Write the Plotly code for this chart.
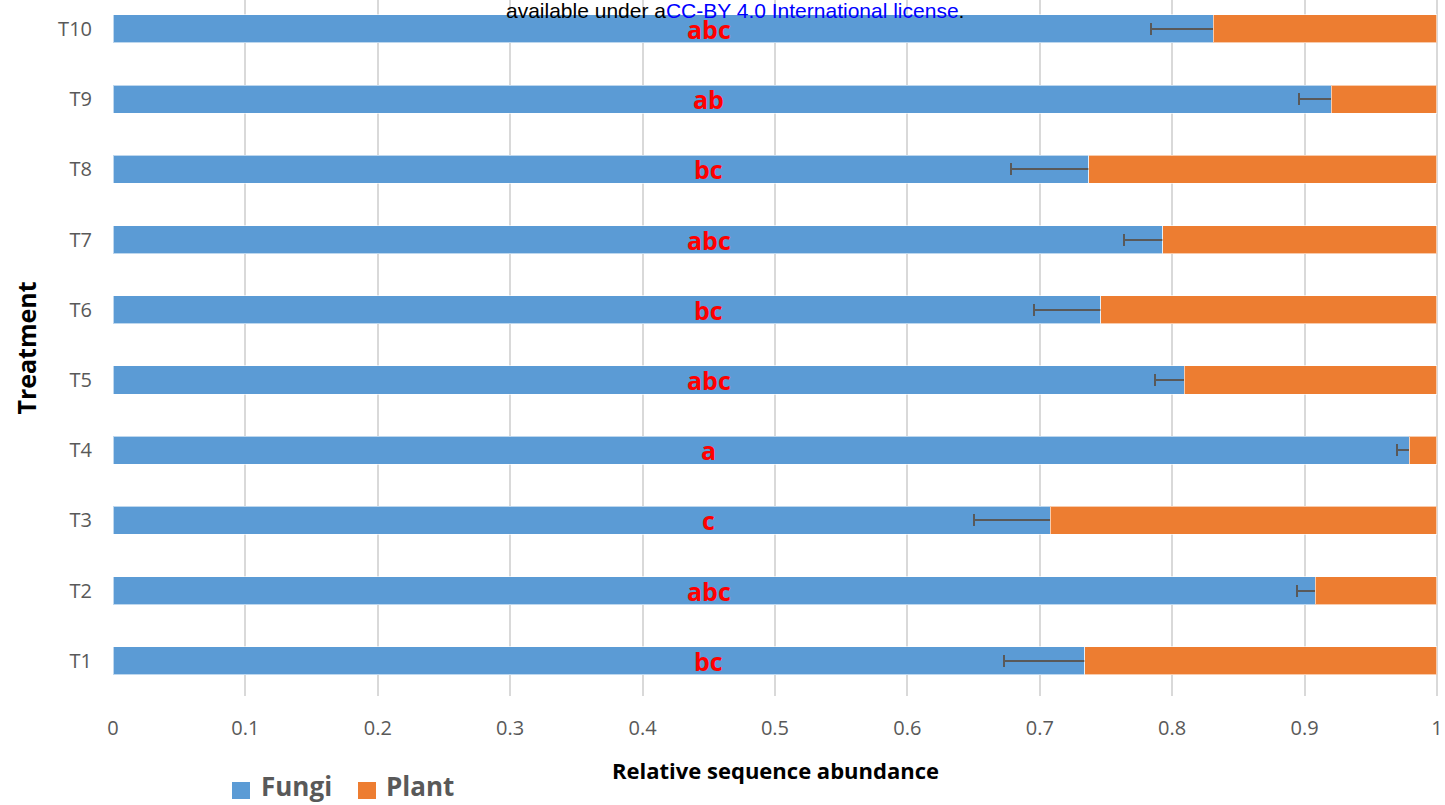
import plotly.graph_objects as go

treatments = ["T1", "T2", "T3", "T4", "T5", "T6", "T7", "T8", "T9", "T10"]
fungi = [0.734, 0.908, 0.708, 0.979, 0.809, 0.746, 0.793, 0.737, 0.920, 0.831]
fungi_err = [0.061, 0.014, 0.058, 0.009, 0.022, 0.050, 0.029, 0.059, 0.024, 0.047]
plant = [round(1 - f, 3) for f in fungi]
letters = ["bc", "abc", "c", "a", "abc", "bc", "abc", "bc", "ab", "abc"]
x_ticks = [0, 0.1, 0.2, 0.3, 0.4, 0.5, 0.6, 0.7, 0.8, 0.9, 1]
x_tick_text = ["0", "0.1", "0.2", "0.3", "0.4", "0.5", "0.6", "0.7", "0.8", "0.9", "1"]
series_names = ["Fungi", "Plant"]
series_colors = ["#5B9BD5", "#ED7D31"]

ypos = list(range(len(treatments)))
FONT = "'Open Sans', Lato, sans-serif"
GRAY = "#595959"

W, H = 1445, 805
L, R, T, B = 113, 7, 0, 109
XMAX = 1.0008
pw = W - L - R
ph = H - T - B
YMAX = -0.5 + ph / 70.22


def px_x(p):
    # screen x of the reference -> paper coordinate
    return (p - L) / pw


def px_y(p):
    # screen y of the reference -> paper coordinate
    return (H - B - p) / ph


fig = go.Figure()
fig.add_trace(go.Bar(
    y=ypos, x=fungi, orientation="h", name=series_names[0],
    marker=dict(color=series_colors[0], line=dict(color="rgba(255,255,255,0.6)", width=1)),
    width=0.4, showlegend=False,
    error_x=dict(type="data", array=fungi_err, color=GRAY, thickness=2, width=6),
))
fig.add_trace(go.Bar(
    y=ypos, x=plant, orientation="h", name=series_names[1],
    marker=dict(color=series_colors[1], line=dict(color="rgba(255,255,255,0.6)", width=1)),
    width=0.4, showlegend=False,
))

for yv, lab in zip(ypos, letters):
    fig.add_annotation(x=0.45, y=yv, text="<b>" + lab + "</b>", showarrow=False,
                       font=dict(family=FONT, size=25, color="#FF0000"),
                       xanchor="center", yanchor="middle", yshift=0)

fig.add_annotation(xref="paper", yref="paper", x=px_x(735), y=px_y(11),
                   text="available under a<span style='color:#0000FF'>CC-BY 4.0 International license</span>.",
                   showarrow=False, xanchor="center", yanchor="middle",
                   font=dict(family="Liberation Sans, Arial", size=21, color="#000000"))

# legend drawn as squares + labels below the axis title
legend_sq = [(232, 250), (358, 376)]
legend_tx = [259, 384]
for (x0, x1), tx, name, col in zip(legend_sq, legend_tx, series_names, series_colors):
    fig.add_shape(type="rect", xref="paper", yref="paper",
                  x0=px_x(x0), x1=px_x(x1), y0=px_y(799), y1=px_y(782),
                  fillcolor=col, line=dict(width=0))
    fig.add_annotation(xref="paper", yref="paper", x=px_x(tx), y=px_y(786),
                       text="<b>" + name + "</b>", showarrow=False,
                       xanchor="left", yanchor="middle",
                       font=dict(family=FONT, size=26, color=GRAY))

fig.update_layout(
    width=W, height=H,
    barmode="stack",
    plot_bgcolor="white", paper_bgcolor="white",
    margin=dict(l=L, r=R, t=T, b=B, autoexpand=False),
    showlegend=False,
    xaxis=dict(range=[0, XMAX], tickvals=x_ticks, ticktext=x_tick_text,
               showgrid=True, gridcolor="#D9D9D9", gridwidth=2,
               zeroline=False, showline=False, ticks="", ticklabelstandoff=18,
               ticklabeloverflow="allow", automargin=False,
               tickfont=dict(family=FONT, size=20, color=GRAY),
               title=dict(text="<b>Relative sequence abundance</b>", standoff=23,
                          font=dict(family=FONT, size=22, color="#000000"))),
    yaxis=dict(range=[-0.5, YMAX], tickvals=ypos, ticktext=treatments,
               showgrid=False, zeroline=False, showline=False, ticks="",
               ticklabelstandoff=20, automargin=False,
               tickfont=dict(family=FONT, size=20, color=GRAY),
               title=dict(text="<b>Treatment</b>", standoff=14,
                          font=dict(family=FONT, size=25, color="#000000"))),
)

fig.write_html("out.html", config={"displayModeBar": False},
               post_script="document.body.style.margin='0';")
